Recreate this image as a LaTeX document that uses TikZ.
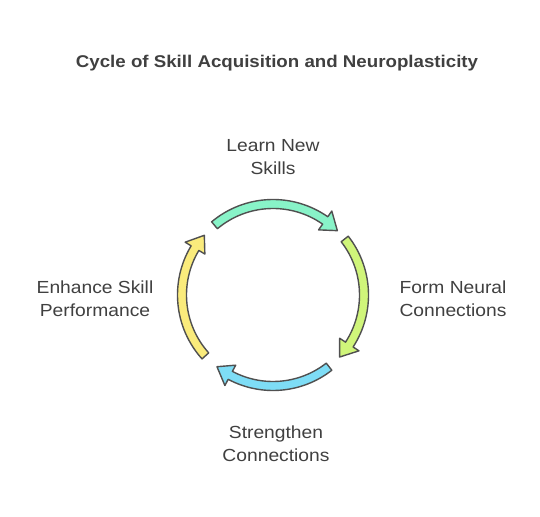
\documentclass[tikz,border=0pt]{standalone}
\usepackage{fontspec}
\setmainfont{Liberation Sans}[FakeStretch=1.1]
\definecolor{txt}{HTML}{404040}
\definecolor{edge}{HTML}{505050}
\definecolor{cteal}{HTML}{88F3C8}
\definecolor{clime}{HTML}{D0F57A}
\definecolor{cblue}{HTML}{7EDDF6}
\definecolor{cyell}{HTML}{FAEB7C}
\newcommand\cycarrow[3]{%
  \pgfmathsetmacro\hb{#3+10}%
  \draw[arrowbody, fill=#1] (#2:95.5pt) arc[start angle=#2, end angle=\hb, radius=95.5pt]
    -- (\hb:102.5pt) -- (#3:91pt) -- (\hb:79.5pt) -- (\hb:86.5pt)
    arc[start angle=\hb, end angle=#2, radius=86.5pt] -- cycle;}
\tikzset{
  arrowbody/.style={draw=edge, line width=1.4pt, line join=round},
  lbl/.style={text=txt, font=\fontsize{17.5}{23}\selectfont, align=center, inner sep=0pt},
  ttl/.style={text=txt, font=\fontsize{17}{20}\selectfont\bfseries, inner sep=0pt}
}
\begin{document}
\begin{tikzpicture}[x=1pt,y=1pt]
\useasboundingbox (0,0) rectangle (540,516);
\fill[white] (0,0) rectangle (540,516);
\node[ttl] (title) at (277,453) {Cycle of Skill Acquisition and Neuroplasticity};
\begin{scope}[shift={(273,221)}]
  \cycarrow{cteal}{130}{45}
  \cycarrow{clime}{38}{-43}
  \cycarrow{cblue}{-52}{-128}
  \cycarrow{cyell}{-138}{-221}
\end{scope}
\node[lbl] (learn) at (273,359) {Learn New\\Skills};
\node[lbl] (form) at (453,217) {Form Neural\\Connections};
\node[lbl] (strength) at (276,72) {Strengthen\\Connections};
\node[lbl] (enhance) at (95,217) {Enhance Skill\\Performance};
\end{tikzpicture}
\end{document}
